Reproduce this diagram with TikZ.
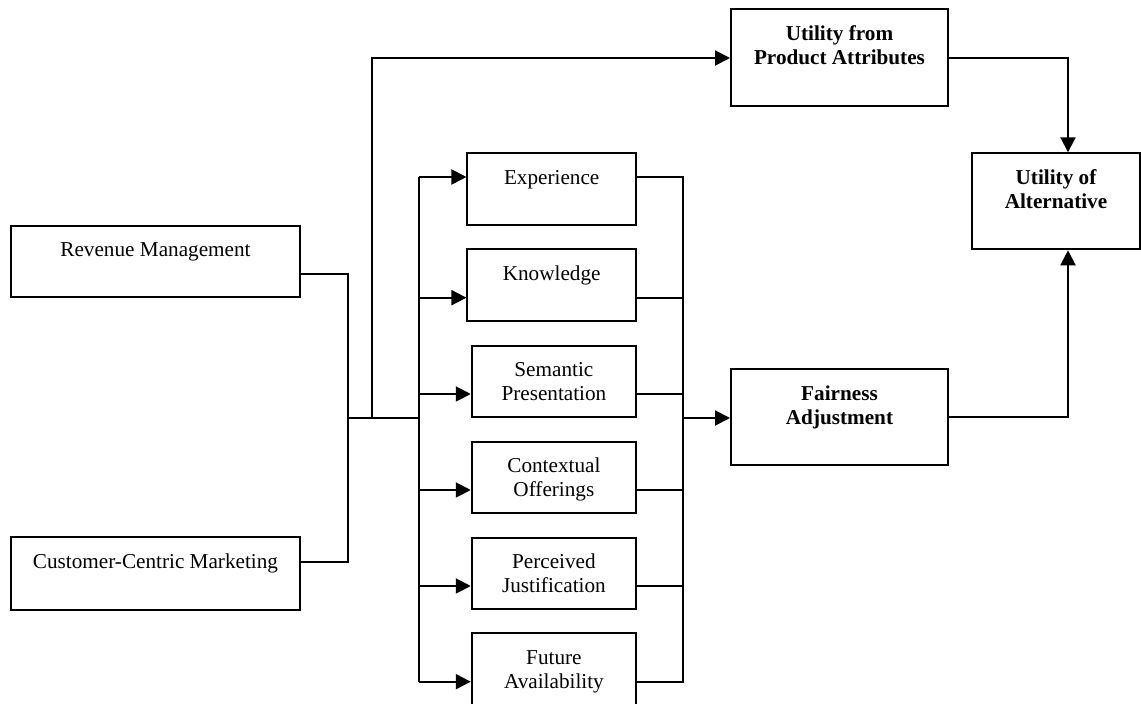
\documentclass[tikz,border=0pt]{standalone}
\usepackage{fontspec}
\setmainfont{Liberation Serif}
\usetikzlibrary{arrows.meta}
\newcommand\mystr{\rule[-2.4pt]{0pt}{12pt}}
\tikzset{
  box/.style={draw, line width=1pt, rectangle, inner sep=0pt, align=center,
    font=\fontsize{10.6}{12}\selectfont},
  bbox/.style={box, font=\fontsize{10.6}{12}\selectfont\bfseries},
  wire/.style={line width=1pt},
  arr/.style={line width=1pt, -{Triangle[length=7.5pt,width=7.5pt]}}
}
\begin{document}
\begin{tikzpicture}[x=0.5pt,y=-0.5pt]
\useasboundingbox (0,0) rectangle (1141,704);
% left inputs
\node[box, minimum width=144.5pt, minimum height=35.5pt] (rev) at (155.5,261.3) {\mystr Revenue Management\\\mystr};
\node[box, minimum width=144.5pt, minimum height=36.5pt] (ccm) at (155.5,573.3) {\mystr Customer-Centric Marketing\\\mystr};
% right boxes
\node[bbox, minimum width=108.5pt, minimum height=48.5pt] (upa) at (839.5,57.7) {\mystr Utility from\\\mystr Product Attributes\\\mystr};
\node[bbox, minimum width=84pt, minimum height=48pt] (ua) at (1056,201.3) {\mystr Utility of\\\mystr Alternative\\\mystr};
\node[bbox, minimum width=108.5pt, minimum height=48pt] (fair) at (839.5,417.5) {\mystr Fairness\\\mystr Adjustment\\\mystr};
% middle column
\node[box, minimum width=84.25pt, minimum height=36pt] (exp) at (551.7,189.3) {\mystr Experience\\\mystr};
\node[box, minimum width=84.25pt, minimum height=36pt] (know) at (551.7,285.4) {\mystr Knowledge\\\mystr};
\node[box, minimum width=82.15pt, minimum height=35.8pt] (sem) at (553.9,381.5) {\mystr Semantic\\\mystr Presentation};
\node[box, minimum width=82.15pt, minimum height=35.8pt] (ctx) at (553.9,477.5) {\mystr Contextual\\\mystr Offerings};
\node[box, minimum width=82.15pt, minimum height=35.8pt] (per) at (553.9,573.5) {\mystr Perceived\\\mystr Justification};
\node[box, minimum width=82.15pt, minimum height=36pt] (fut) at (553.9,669.3) {\mystr Future\\\mystr Availability};
% helper coordinates
\coordinate (J) at (348,418);
\coordinate (B) at (372,418);
\coordinate (L) at (419,418);
\coordinate (R) at (683.3,418);
\coordinate (Ytop) at (0,58);
\coordinate (Yr) at (0,274);
\coordinate (Yc) at (0,561.7);
\coordinate (Xu) at (1068,0);
\coordinate (Y1) at (0,177);
\coordinate (Y2) at (0,297.7);
\coordinate (Y3) at (0,394);
\coordinate (Y4) at (0,490);
\coordinate (Y5) at (0,586);
\coordinate (Y6) at (0,681.7);
% inputs to junction
\draw[wire] (rev.east |- Yr) -| (J);
\draw[wire] (ccm.east |- Yc) -| (J);
\draw[wire] (J) -- (L);
% branch to utility from product attributes
\draw[arr] (B) |- (upa.west |- Ytop);
% left bus
\draw[wire] (L |- Y1) -- (L |- Y6);
\draw[arr] (L |- Y1) -- (exp.west |- Y1);
\draw[arr] (L |- Y2) -- (know.west |- Y2);
\draw[arr] (L |- Y3) -- (sem.west |- Y3);
\draw[arr] (L |- Y4) -- (ctx.west |- Y4);
\draw[arr] (L |- Y5) -- (per.west |- Y5);
\draw[arr] (L |- Y6) -- (fut.west |- Y6);
% right bus
\draw[wire] (exp.east |- Y1) -- (R |- Y1) -- (R |- Y6) -- (fut.east |- Y6);
\draw[wire] (know.east |- Y2) -- (R |- Y2);
\draw[wire] (sem.east |- Y3) -- (R |- Y3);
\draw[wire] (ctx.east |- Y4) -- (R |- Y4);
\draw[wire] (per.east |- Y5) -- (R |- Y5);
\draw[arr] (R) -- (fair.west |- R);
% to utility of alternative
\draw[arr] (upa.east) -| (Xu |- ua.north);
\draw[arr] (fair.east) -| (Xu |- ua.south);
\end{tikzpicture}
\end{document}
